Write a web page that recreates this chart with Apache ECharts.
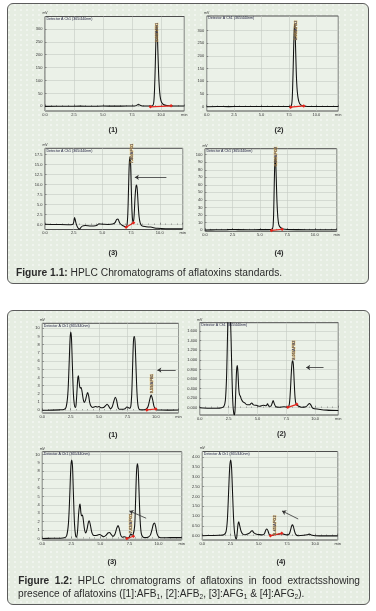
<!DOCTYPE html>
<html><head><meta charset="utf-8">
<script src="https://cdn.jsdelivr.net/npm/echarts@6/dist/echarts.min.js"></script>
<style>
html,body{margin:0;padding:0;background:#fff;}
#wrap{position:relative;width:376px;height:611px;overflow:hidden;}
.box{position:absolute;border:1px solid #5c5c5c;border-radius:6px;background-color:#e6ede2;
background-image:radial-gradient(circle at 1px 1px, rgba(255,255,255,0.75) 0.55px, rgba(255,255,255,0) 0.9px);
background-size:6px 5px;box-sizing:border-box;}
#chart{position:absolute;left:0;top:0;width:376px;height:611px;}
</style></head>
<body><div id="wrap">
<div class="box" style="left:7px;top:3px;width:362px;height:281px"></div>
<div class="box" style="left:7px;top:310px;width:363px;height:295px"></div>
<div id="chart"></div></div>
<script>
// ================= DATA =================
// Figure 1.1 (standards)
const c11 = [[0,0],[1,0.5],[2,0.5],[3,0.8],[4,0.5],[5,1],[6,0.8],[7,1],[7.7,1.2],[7.9,4],[8.05,8],[8.2,4],[8.4,1.5],[8.8,1],[9.1,1],[9.3,4],[9.38,20],[9.44,70],[9.5,160],[9.55,250],[9.6,305],[9.63,312],[9.67,290],[9.72,220],[9.77,150],[9.82,95],[9.88,55],[9.95,30],[10.05,15],[10.2,7],[10.5,3],[11,1.5],[12,1]];
const base11 = [[9.08,-2],[10.86,2]];
const peak11 = [9.63,249];
const yT11 = [0,50,100,150,200,250,300];

const c12 = [[0,0],[1,0.5],[2,0.3],[3,0.5],[4,0.5],[5,0.8],[6,0.5],[7,0.8],[7.5,1],[7.7,3],[7.78,20],[7.84,80],[7.9,180],[7.96,280],[8.01,325],[8.05,315],[8.1,240],[8.15,160],[8.2,100],[8.26,60],[8.33,35],[8.42,18],[8.55,8],[8.8,3],[9.2,1],[10,0.5],[12,0.5]];
const base12 = [[7.66,-2],[8.85,3]];
const peak12 = [8.12,263];
const yT12 = [0,50,100,150,200,250,300];

const c13 = [[0,0.1],[1,0.05],[2,0],[2.4,0.05],[2.5,0.6],[2.57,1.8],[2.63,1.3],[2.72,0.2],[2.85,-0.7],[3.0,-1.1],[3.1,-0.8],[3.25,-0.35],[3.5,-0.2],[4.0,-0.3],[4.4,-0.25],[4.6,0.0],[4.7,0.25],[4.85,0.15],[5.1,0.1],[5.5,0.05],[5.9,0.15],[6.1,0.5],[6.25,1.35],[6.35,1.4],[6.5,0.5],[6.7,-0.1],[6.9,-0.4],[7.05,-0.6],[7.15,0],[7.22,3],[7.28,9],[7.34,15],[7.4,17],[7.46,15],[7.52,9],[7.58,3.5],[7.64,1.0],[7.7,0.6],[7.77,2.5],[7.85,7],[7.93,9.6],[7.98,9.9],[8.04,8.8],[8.12,5],[8.2,2],[8.3,0.4],[8.45,-0.3],[8.8,-0.5],[9.2,-0.6],[9.8,-0.9],[10.5,-1.0],[12,-1.0]];
const base13 = [[7.07,-0.65],[7.72,0.5]];
const peak13 = [7.56,15.35];
const arrow13 = [[10.58,11.85],[7.83,11.85]];
const yT13 = [0,2.5,5,7.5,10,12.5,15,17.5];

const c14 = [[0,0],[1,0.3],[2,0.5],[2.5,0.8],[3,0.5],[4,0.3],[5,0.5],[5.8,0.5],[6.1,1],[6.2,5],[6.26,25],[6.31,60],[6.36,90],[6.4,97],[6.44,92],[6.49,70],[6.54,45],[6.6,25],[6.67,12],[6.75,6],[6.9,3],[7.1,1.5],[7.5,0.8],[8.5,0.5],[10,0.3],[12,0.3]];
const base14 = [[6.06,-0.5],[7.03,1]];
const peak14 = [6.45,84.6];
const yT14 = [0,10,20,30,40,50,60,70,80,90,100];

// Figure 1.2 (food extracts)
const c21 = [[0,0],[0.8,0.02],[1.5,0.05],[1.9,0.1],[2.1,0.4],[2.25,2],[2.36,5.5],[2.45,8.8],[2.51,9.55],[2.57,8.8],[2.65,5.5],[2.74,2],[2.82,0.7],[2.9,0.35],[2.97,0.6],[3.05,2.2],[3.12,3.8],[3.18,4.2],[3.25,3.4],[3.33,2.7],[3.41,2.8],[3.5,2.3],[3.6,1.4],[3.7,0.95],[3.8,1.2],[3.9,1.8],[3.99,2.15],[4.08,1.8],[4.17,1.0],[4.27,0.55],[4.45,0.35],[4.7,0.45],[4.85,0.4],[5.0,0.45],[5.15,0.3],[5.4,0.35],[5.6,0.6],[5.71,0.73],[5.85,0.5],[6.0,0.2],[6.15,0.4],[6.3,1.1],[6.44,1.6],[6.55,1.2],[6.66,0.4],[6.78,0.12],[7.0,0.12],[7.3,0.2],[7.45,0.4],[7.55,0.35],[7.7,0.25],[7.8,0.5],[7.88,2],[7.96,5.5],[8.03,8.4],[8.1,9.0],[8.17,8.4],[8.25,5.5],[8.34,2.2],[8.43,0.6],[8.54,0.12],[8.8,0.05],[9.1,0.1],[9.3,0.4],[9.45,1.2],[9.59,1.85],[9.72,1.3],[9.85,0.45],[10.05,0.08],[10.5,0.03],[11,0.02],[12,0.04]];
const base21 = [[9.21,0.04],[10.0,0.16]];
const peak21 = [9.65,2.07];
const arrow21 = [[11.75,4.9],[10.14,4.9]];
const yT21 = [0,1,2,3,4,5,6,7,8,9,10];

const c22 = [[0,0],[0.8,-0.01],[1.5,-0.01],[1.9,0],[2.1,0.03],[2.22,0.15],[2.32,0.6],[2.4,1.4],[2.46,2.0],[2.53,2.35],[2.6,2.3],[2.66,1.9],[2.72,1.4],[2.8,0.6],[2.88,0.05],[2.95,-0.12],[3.0,-0.15],[3.06,-0.05],[3.13,0.4],[3.2,0.8],[3.26,0.88],[3.32,0.7],[3.38,0.4],[3.44,0.28],[3.52,0.24],[3.62,0.17],[3.75,0.12],[3.9,0.1],[4.1,0.06],[4.3,0.06],[4.5,0.1],[4.65,0.06],[4.9,0.05],[5.2,0.03],[5.5,0.05],[5.75,0.04],[5.87,0.08],[6.0,0.03],[6.15,0.03],[6.28,0.1],[6.36,0.15],[6.45,0.09],[6.6,0.02],[6.9,0.01],[7.3,0.02],[7.6,0.01],[7.75,0.06],[7.85,0.35],[7.93,0.72],[8.0,0.95],[8.05,0.98],[8.11,0.9],[8.18,0.55],[8.26,0.2],[8.35,0.07],[8.5,0.04],[8.8,0.01],[9.2,0.02],[9.4,0.07],[9.5,0.09],[9.62,0.06],[9.8,-0.01],[10.3,-0.03],[11,-0.05],[12,-0.06]];
const base22 = [[7.63,0.008],[8.41,0.07]];
const peak22 = [8.12,1.0];
const arrow22 = [[10.72,0.84],[9.22,0.84]];
const yT22 = [0,0.2,0.4,0.6,0.8,1.0,1.2,1.4,1.6];

const c23 = [[0,0],[0.8,0.02],[1.5,0.03],[1.9,0.08],[2.1,0.35],[2.25,1.8],[2.36,5],[2.46,8.6],[2.53,9.35],[2.6,8.6],[2.68,5.2],[2.77,1.8],[2.86,0.4],[2.95,0.15],[3.03,0.8],[3.12,2.8],[3.2,3.9],[3.25,4.1],[3.32,3.1],[3.38,2.7],[3.45,2.8],[3.53,2.2],[3.63,1.1],[3.74,0.65],[3.85,1.1],[3.96,1.9],[4.04,2.1],[4.14,1.6],[4.25,0.8],[4.38,0.4],[4.55,0.35],[4.75,0.4],[4.95,0.48],[5.1,0.35],[5.3,0.2],[5.5,0.4],[5.65,0.65],[5.78,0.72],[5.92,0.5],[6.08,0.25],[6.25,0.5],[6.4,1.2],[6.52,1.55],[6.62,1.2],[6.75,0.4],[6.88,0.15],[7.05,0.2],[7.2,0.15],[7.35,0.05],[7.5,0.2],[7.62,0.55],[7.72,0.4],[7.82,0.45],[7.95,1.5],[8.03,4.5],[8.11,7.9],[8.18,8.88],[8.25,8.3],[8.33,5.5],[8.42,2.2],[8.52,0.6],[8.65,0.2],[8.85,0.1],[9.1,0.15],[9.3,0.4],[9.45,1.1],[9.56,1.7],[9.66,1.85],[9.76,1.4],[9.88,0.55],[10.05,0.15],[10.4,0.08],[11,0.1],[12,0.1]];
const base23 = [[7.28,0.0],[7.84,0.26]];
const peak23 = [7.65,0.62];
const arrow23 = [[8.94,2.41],[7.5,3.28]];
const yT23 = [0,1,2,3,4,5,6,7,8,9,10];

const c24 = [[0,0],[0.8,0.01],[1.5,0.02],[1.9,0.05],[2.1,0.2],[2.22,0.8],[2.33,2.2],[2.43,3.5],[2.52,3.85],[2.6,3.4],[2.68,2.2],[2.77,0.9],[2.86,0.15],[2.95,-0.12],[3.02,-0.17],[3.1,0.2],[3.17,0.6],[3.23,0.71],[3.3,0.55],[3.4,0.3],[3.5,0.15],[3.6,0.08],[3.8,0.05],[4.0,0.08],[4.2,0.14],[4.35,0.24],[4.45,0.25],[4.55,0.15],[4.75,0.08],[5.0,0.06],[5.3,0.04],[5.5,0.1],[5.62,0.28],[5.72,0.34],[5.82,0.25],[5.95,0.04],[6.1,0.01],[6.3,0.03],[6.45,0.1],[6.6,0.06],[6.8,0.08],[7.0,0.1],[7.2,0.08],[7.5,0.04],[7.7,0.08],[7.82,0.28],[7.92,0.5],[8.0,0.55],[8.08,0.45],[8.18,0.22],[8.3,0.05],[8.5,0.0],[9.0,0.02],[9.3,0.05],[9.47,0.08],[9.65,0.04],[10,0.0],[11,-0.01],[12,-0.01]];
const base24 = [[6.04,0],[7.04,0.12]];
const peak24 = [6.46,0.04];
const arrow24 = [[8.5,0.85],[7.07,1.26]];
const yT24 = [0,0.5,1,1.5,2,2.5,3,3.5,4];

const xRange = [0,12];
const xStep = 2.5;
const peakLabels = ['9.62/AFB1','8.03/AFB2','7.40/AFG1','6.40/AFG2','9.59/AFB1','8.05/AFB2','7.62/AFG1','6.45/AFG2'];
const panelCaps = ['(1)','(2)','(3)','(4)','(1)','(2)','(3)','(4)'];
const headerText = 'Detector A Ch1 (365/440nm)';

// ================= LAYOUT (pixels / styles) =================
const charts = [
 {l:45,t:16.5,w:139.3,h:94.5,yMin:-18,yMax:348,dec:0,d:c11,b:base11,p:peak11,a:null,yT:yT11,cap:[113,130]},
 {l:206.7,t:16,w:131.6,h:95,yMin:-17,yMax:357,dec:0,d:c12,b:base12,p:peak12,a:null,yT:yT12,cap:[279,130]},
 {l:45,t:148.3,w:137.7,h:81.2,yMin:-1.2,yMax:19.1,dec:1,d:c13,b:base13,p:peak13,a:arrow13,yT:yT13,cap:[113,253]},
 {l:205,t:148.7,w:131.7,h:82.6,yMin:-1.7,yMax:108,dec:0,d:c14,b:base14,p:peak14,a:null,yT:yT14,cap:[279,253]},
 {l:42.3,t:323.3,w:136.2,h:89.7,yMin:-0.33,yMax:10.6,dec:0,d:c21,b:base21,p:peak21,a:arrow21,yT:yT21,cap:[113,435]},
 {l:199.7,t:322.7,w:138.6,h:92.3,yMin:-0.152,yMax:1.775,dec:3,d:c22,b:base22,p:peak22,a:arrow22,yT:yT22,cap:[281.5,434]},
 {l:42.3,t:451.7,w:139.4,h:88.3,yMin:-0.18,yMax:10.33,dec:0,d:c23,b:base23,p:peak23,a:arrow23,yT:yT23,cap:[112,562]},
 {l:202.3,t:451.5,w:135.4,h:88.5,yMin:-0.22,yMax:4.29,dec:2,d:c24,b:base24,p:peak24,a:arrow24,yT:yT24,cap:[281,562]}
];
const FONT = '"Liberation Sans", Arial, sans-serif';
const gridLine = {color:'#c5cbc2', width:0.6};

const grids=[], xAxes=[], yAxes=[], series=[], graphics=[];
charts.forEach((C,i)=>{
  grids.push({left:C.l, top:C.t, width:C.w, height:C.h, show:true, backgroundColor:'#ebf1e8', borderColor:'#4e4e4e', borderWidth:1});
  xAxes.push({type:'value', gridIndex:i, min:xRange[0], max:xRange[1], interval:xStep,
    axisLine:{show:false},
    axisTick:{show:true, inside:true, length:2, lineStyle:{color:'#4e4e4e', width:0.6}},
    minorTick:{show:true, splitNumber:5, length:1.2, lineStyle:{color:'#4e4e4e', width:0.5}},
    axisLabel:{fontSize:4, margin:1.5, color:'#333', fontFamily:FONT, showMaxLabel:true, showMinLabel:true,
      formatter:v=> v>=xRange[1] ? 'min' : v.toFixed(1)},
    splitLine:{show:true, lineStyle:gridLine}});
  yAxes.push({type:'value', gridIndex:i, min:C.yMin, max:C.yMax,
    name:'mV', nameLocation:'end', nameGap:1, nameTextStyle:{fontSize:3.5, color:'#333', fontFamily:FONT, align:'center'},
    axisLine:{show:false},
    axisTick:{show:true, inside:true, length:1.5, lineStyle:{color:'#4e4e4e', width:0.6}, customValues:C.yT},
    axisLabel:{fontSize:4, margin:2.5, color:'#333', fontFamily:FONT, customValues:C.yT, formatter:v=>v.toFixed(C.dec)},
    splitLine:{show:true, lineStyle:gridLine}});
  const curve = {type:'line', xAxisIndex:i, yAxisIndex:i, data:C.d, showSymbol:false, smooth:0.3,
    lineStyle:{color:'#111', width:1.05}, silent:true, z:3};
  if (C.a) {
    curve.markLine = {silent:true, symbol:['none','arrow'], symbolSize:4, animation:false,
      lineStyle:{color:'#333', width:0.8, type:'solid'}, label:{show:false},
      data:[[{coord:C.a[0]},{coord:C.a[1]}]]};
  }
  series.push(curve);
  series.push({type:'line', xAxisIndex:i, yAxisIndex:i, data:C.b, symbol:'diamond', symbolSize:3.5, showSymbol:true,
    itemStyle:{color:'#e3241b'}, lineStyle:{color:'#e3241b', width:1.2}, silent:true, z:4});
  series.push({type:'scatter', xAxisIndex:i, yAxisIndex:i, data:[{value:C.p, name:peakLabels[i]}], symbolSize:0, silent:true, z:5,
    label:{show:true, formatter:'{b}', rotate:90, position:'inside', align:'left', verticalAlign:'middle',
      fontSize:4, fontFamily:FONT, fontWeight:'bold', color:'#1c2b6e', textBorderColor:'#efb234', textBorderWidth:0.5}});
  graphics.push({type:'text', x:C.l+1.5, y:C.t+2.2, silent:true, z:10,
    style:{text:headerText, fontSize:3.6, fontFamily:FONT, fill:'#1a1a3a', verticalAlign:'middle'}});
  graphics.push({type:'text', x:C.cap[0], y:C.cap[1], silent:true,
    style:{text:panelCaps[i], fontSize:7.5, fontWeight:'bold', fontFamily:FONT, fill:'#2a2a2a', align:'center', verticalAlign:'middle'}});
});

// ---- figure captions ----
const mctx = document.createElement('canvas').getContext('2d');
function tw(t, size, bold){ mctx.font=(bold?'bold ':'')+size+'px '+FONT; return mctx.measureText(t).width; }
// caption 1.1
(function(){
  const a='Figure 1.1:', b=' HPLC Chromatograms of aflatoxins standards.';
  const w10 = tw(a,10,true)+tw(b,10,false);
  const fs = 10*266.5/w10;
  graphics.push({type:'text', x:16, y:272.7, silent:true,
    style:{text:'{b|'+a+'}'+b, fontSize:fs, fontFamily:FONT, fill:'#2b2b2b', verticalAlign:'middle',
      rich:{b:{fontWeight:'bold', fontSize:fs, fontFamily:FONT, fill:'#2b2b2b'}}}});
})();
// caption 1.2
(function(){
  const parts=[['presence of aflatoxins ([1]:AFB',0],['1',1],[', [2]:AFB',0],['2',1],[', [3]:AFG',0],['1',1],[' & [4]:AFG',0],['2',1],[').',0]];
  let w10=0; parts.forEach(p=>{ w10 += p[1]? tw(p[0],6.5,false) : tw(p[0],10,false); });
  const fs = 10*287/w10;
  const sfs = fs*0.65;
  let txt=''; parts.forEach(p=>{ txt += p[1] ? '{s|'+p[0]+'}' : '{n|'+p[0]+'}'; });
  graphics.push({type:'text', x:18, y:594.5, silent:true,
    style:{text:txt, fontSize:fs, fontFamily:FONT, fill:'#2b2b2b', verticalAlign:'middle',
      rich:{n:{fontSize:fs, fontFamily:FONT, fill:'#2b2b2b', lineHeight:fs*1.2, verticalAlign:'middle'},
            s:{fontSize:sfs, fontFamily:FONT, fill:'#2b2b2b', lineHeight:fs*1.2, verticalAlign:'bottom'}}}});
  const words=[['Figure',1],['1.2:',1],['HPLC',0],['chromatograms',0],['of',0],['aflatoxins',0],['in',0],['food',0],['extractsshowing',0]];
  const x0=18.3, x1=360;
  let sum=0; const ws=words.map(wd=>{const v=tw(wd[0],fs,wd[1]); sum+=v; return v;});
  const gap=(x1-x0-sum)/(words.length-1);
  let x=x0;
  words.forEach((wd,k)=>{
    graphics.push({type:'text', x:x, y:581, silent:true,
      style:{text:wd[0], fontSize:fs, fontWeight:wd[1]?'bold':'normal', fontFamily:FONT, fill:'#2b2b2b', verticalAlign:'middle'}});
    x += ws[k]+gap;
  });
})();

const chart = echarts.init(document.getElementById('chart'), null, {renderer:'canvas'});
chart.setOption({animation:false, backgroundColor:'transparent', grid:grids, xAxis:xAxes, yAxis:yAxes, series:series, graphic:graphics});
</script>
</body></html>
